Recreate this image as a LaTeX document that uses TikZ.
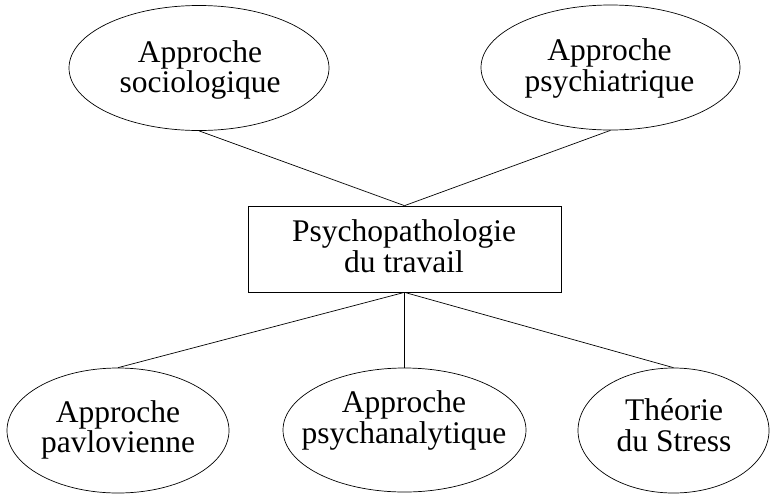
\documentclass[tikz,border=0pt]{standalone}
\usepackage{fontspec}
\setmainfont{Liberation Serif}
\usetikzlibrary{shapes.geometric}
\begin{document}
\begin{tikzpicture}[x=1pt,y=-1pt,
  ell/.style={draw, ellipse, inner sep=0pt, line width=0.7pt},
  rectbox/.style={draw, rectangle, inner sep=0pt, line width=0.7pt},
  txt/.style={align=center, inner sep=0pt, font=\fontsize{31.5}{30.5}\selectfont},
  link/.style={line width=0.7pt}]
\useasboundingbox (0,0) rectangle (770,496);
% shapes
\node[ell, minimum width=260pt, minimum height=125pt] (tl) at (199,68) {};
\node[ell, minimum width=259pt, minimum height=125pt] (tr) at (610.5,67.5) {};
\node[rectbox, minimum width=313pt, minimum height=86pt] (c) at (404.5,249) {};
\node[ell, minimum width=222pt, minimum height=125pt] (bl) at (118,430.5) {};
\node[ell, minimum width=243pt, minimum height=124pt] (bm) at (404.5,430) {};
\node[ell, minimum width=191pt, minimum height=125pt] (br) at (673.5,430.5) {};
% texts
\node[txt] (ttl) at (200,70) {Approche\\sociologique};
\node[txt] (ttr) at (609.5,68.5) {Approche\\psychiatrique};
\node[txt] (tc) at (404,246) {Psychopathologie\\du travail};
\node[txt] (tbl) at (118,430) {Approche\\pavlovienne};
\node[txt] (tbm) at (404,420.7) {Approche\\psychanalytique};
\node[txt] (tbr) at (674,425) {Théorie\\du Stress};
% connectors
\draw[link] (tl.south) -- (c.north);
\draw[link] (tr.south) -- (c.north);
\draw[link] (c.south) -- (bl.north);
\draw[link] (c.south) -- (bm.north);
\draw[link] (c.south) -- (br.north);
\end{tikzpicture}
\end{document}
